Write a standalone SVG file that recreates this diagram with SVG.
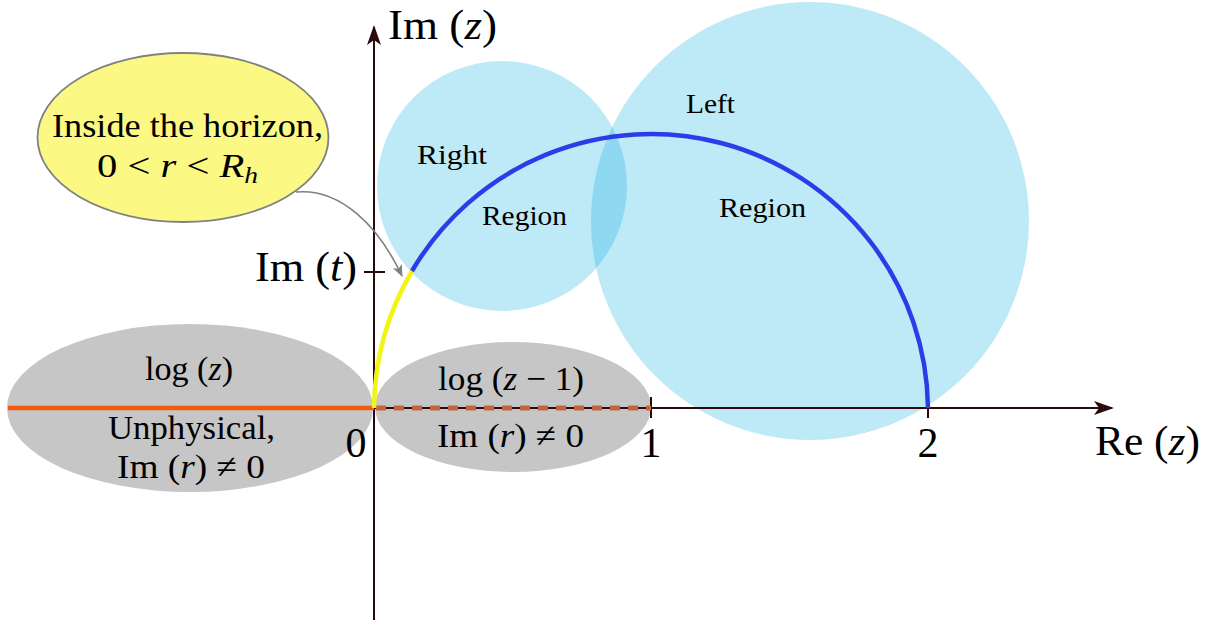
<svg xmlns="http://www.w3.org/2000/svg" width="1214" height="628" viewBox="0 0 1214 628">
<style>
text{font-family:"Liberation Serif","DejaVu Serif",serif;fill:#000}
.it{font-style:italic}
.lab{font-size:42px}
.reg{font-size:28px}
.ell{font-size:34px}
.circ{fill:#0daee2;fill-opacity:0.27}
.gray{fill:#c6c6c6}
</style>
<defs>
<marker id="ax" viewBox="0 0 20 14" refX="18" refY="7" markerWidth="20" markerHeight="14" markerUnits="userSpaceOnUse" orient="auto">
<path d="M0,0 L20,7 L0,14 L5,7 Z" fill="#2a0a0a"/>
</marker>
<marker id="ga" viewBox="0 0 12 10" refX="11" refY="5" markerWidth="12" markerHeight="10" markerUnits="userSpaceOnUse" orient="auto">
<path d="M0,0 L12,5 L0,10 L3,5 Z" fill="#808080"/>
</marker>
</defs>
<g id="regions">
<circle id="right-circle" class="circ" cx="502" cy="186" r="125"/>
<circle id="left-circle" class="circ" cx="810" cy="221" r="219"/>
</g>
<g id="cut-log-z">
<ellipse class="gray" cx="190" cy="408" rx="183" ry="84"/>
</g>
<g id="cut-log-z-1">
<ellipse class="gray" cx="513" cy="407" rx="138" ry="65"/>
</g>
<g id="horizon-node">
<ellipse cx="183" cy="137.5" rx="145.5" ry="84.5" fill="#fbf883" stroke="#808080" stroke-width="1.8"/>
<text class="ell" x="187.5" y="137" text-anchor="middle" textLength="271" lengthAdjust="spacingAndGlyphs">Inside the horizon,</text>
<text class="ell" x="177.5" y="177" text-anchor="middle" textLength="161" lengthAdjust="spacingAndGlyphs">0 &lt; <tspan class="it">r</tspan> &lt; <tspan class="it">R</tspan><tspan class="it" font-size="23" dy="6">h</tspan></text>
</g>
<g id="connectors">
<line x1="8" y1="408" x2="1112" y2="408" stroke="#2a0a0a" stroke-width="2" marker-end="url(#ax)"/>
<line x1="374" y1="620" x2="374" y2="27" stroke="#2a0a0a" stroke-width="2" marker-end="url(#ax)"/>
<line x1="364" y1="272" x2="385" y2="272" stroke="#2a0a0a" stroke-width="2"/>
<line x1="651" y1="397" x2="651" y2="418" stroke="#2a0a0a" stroke-width="2"/>
<line x1="928" y1="397" x2="928" y2="418" stroke="#2a0a0a" stroke-width="2"/>
<line x1="8" y1="408" x2="374" y2="408" stroke="#f25a12" stroke-width="4.5"/>
<line x1="376" y1="408" x2="651" y2="408" stroke="#c4643c" stroke-width="5" stroke-dasharray="10 8"/>
<path d="M374,408 A277,277 0 0 1 412,271" fill="none" stroke="#f0f514" stroke-width="4.5"/>
<path d="M412,271 A277,277 0 0 1 928,408" fill="none" stroke="#2b3de8" stroke-width="4.5"/>
<path d="M296,192 C340,188 378,225 402,276" fill="none" stroke="#808080" stroke-width="1.6" marker-end="url(#ga)"/>
</g>
<g id="labels">
<text class="lab" x="442.5" y="39" text-anchor="middle" textLength="109" lengthAdjust="spacingAndGlyphs">Im (<tspan class="it">z</tspan>)</text>
<text class="lab" x="1147.5" y="455" text-anchor="middle" textLength="105" lengthAdjust="spacingAndGlyphs">Re (<tspan class="it">z</tspan>)</text>
<text class="lab" x="306" y="281" text-anchor="middle" textLength="102" lengthAdjust="spacingAndGlyphs">Im (<tspan class="it">t</tspan>)</text>
<text class="lab" x="356" y="457" text-anchor="middle">0</text>
<text class="lab" x="651" y="457" text-anchor="middle">1</text>
<text class="lab" x="928" y="457" text-anchor="middle">2</text>
<text class="ell" x="189" y="380" text-anchor="middle" textLength="88" lengthAdjust="spacingAndGlyphs">log (<tspan class="it">z</tspan>)</text>
<text class="ell" x="191.5" y="439" text-anchor="middle" textLength="167" lengthAdjust="spacingAndGlyphs">Unphysical,</text>
<text class="ell" x="191" y="478" text-anchor="middle" textLength="148" lengthAdjust="spacingAndGlyphs">Im (<tspan class="it">r</tspan>) ≠ 0</text>
<text class="ell" x="511" y="390" text-anchor="middle" textLength="146" lengthAdjust="spacingAndGlyphs">log (<tspan class="it">z</tspan> − 1)</text>
<text class="ell" x="510.5" y="447" text-anchor="middle" textLength="147" lengthAdjust="spacingAndGlyphs">Im (<tspan class="it">r</tspan>) ≠ 0</text>
<text class="reg" x="452" y="164" text-anchor="middle" textLength="70" lengthAdjust="spacingAndGlyphs">Right</text>
<text class="reg" x="524.5" y="225" text-anchor="middle" textLength="85" lengthAdjust="spacingAndGlyphs">Region</text>
<text class="reg" x="710.5" y="113" text-anchor="middle" textLength="49" lengthAdjust="spacingAndGlyphs">Left</text>
<text class="reg" x="762.5" y="217" text-anchor="middle" textLength="87" lengthAdjust="spacingAndGlyphs">Region</text>
</g>
</svg>
